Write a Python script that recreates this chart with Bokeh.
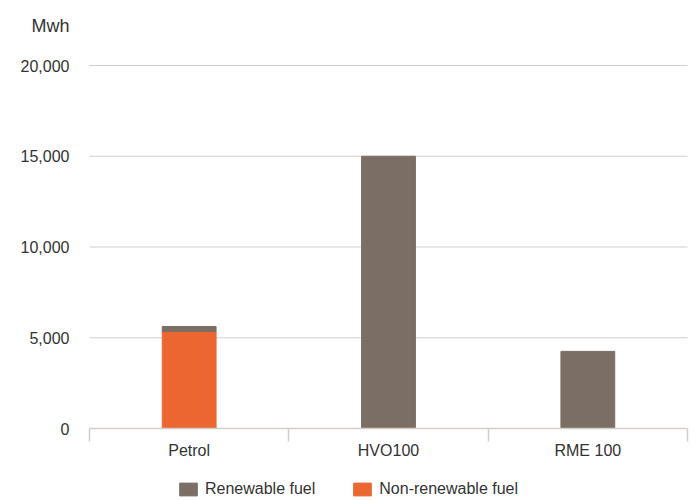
from bokeh.plotting import figure
from bokeh.models import (FixedTicker, NumeralTickFormatter, Legend, LegendItem,
                          ColumnDataSource, Range1d, Label)
from bokeh.embed import file_html
from bokeh.resources import INLINE

# Energy use by fuel type (MWh)
fuels = ["Petrol", "HVO100", "RME 100"]
non_renewable = [5350, 60, 0]
renewable = [270, 14940, 4250]
y_ticks = [0, 5000, 10000, 15000, 20000]

BROWN = "#7b6e64"
ORANGE = "#ec6630"
GRID = "#d3cec8"
TEXT = "#333333"
FONT = "Liberation Sans"
FS = "16px"

W, H = 698, 500
# plot area inside the canvas (pixels): left, right, top of 20,000, baseline
AX_L, AX_R, AX_T, AX_B = 89, 687, 65, 428
n = len(fuels)
ymax = y_ticks[-1]
ux = n / (AX_R - AX_L)          # data units per pixel, x
uy = ymax / (AX_B - AX_T)       # data units per pixel, y

xs = [i + 0.5 for i in range(n)]
stack_top = [a + b for a, b in zip(non_renewable, renewable)]
src = ColumnDataSource(dict(x=xs, nr=non_renewable, top=stack_top))

p = figure(width=W, height=H, output_backend="svg", toolbar_location=None,
           x_range=Range1d(-AX_L * ux, n + (W - AX_R) * ux),
           y_range=Range1d(-(H - AX_B) * uy, ymax + AX_T * uy),
           min_border=0)
p.outline_line_color = None
p.background_fill_color = "white"
p.xgrid.grid_line_color = None
p.ygrid.grid_line_color = None

# horizontal gridlines across the category span
grid_y = y_ticks[1:]
p.segment(x0=[0] * len(grid_y), x1=[n] * len(grid_y), y0=grid_y, y1=grid_y,
          line_color=GRID, line_width=1, level="underlay")

r_nr = p.vbar(x="x", bottom=0, top="nr", width=0.27, color=ORANGE, source=src)
r_r = p.vbar(x="x", bottom="nr", top="top", width=0.27, color=BROWN, source=src)

# y axis: labels only
yax = p.yaxis[0]
yax.fixed_location = 0
yax.ticker = FixedTicker(ticks=y_ticks)
yax.formatter = NumeralTickFormatter(format="0,0")
yax.axis_line_color = None
yax.major_tick_line_color = None
yax.minor_tick_line_color = None
yax.major_label_standoff = 14
yax.major_label_text_font = FONT
yax.major_label_text_font_size = FS
yax.major_label_text_color = TEXT

# x axis: names at bar centres, separator ticks at category boundaries
xax = p.xaxis[0]
xax.fixed_location = 0
xax.bounds = (0, n)
xax.ticker = FixedTicker(ticks=xs, minor_ticks=list(range(n + 1)))
xax.major_label_overrides = {x: f for x, f in zip(xs, fuels)}
xax.axis_line_color = GRID
xax.axis_line_width = 1.5
xax.major_tick_line_color = None
xax.minor_tick_line_color = GRID
xax.minor_tick_line_width = 1.5
xax.minor_tick_in = 0
xax.minor_tick_out = 13
xax.major_tick_in = 0
xax.major_tick_out = 0
xax.major_label_standoff = 0
xax.major_label_text_font = FONT
xax.major_label_text_font_size = FS
xax.major_label_text_color = TEXT

# unit caption above the value labels
p.add_layout(Label(x=69, y=H - 25, x_units="screen", y_units="screen", text="Mwh",
                   text_align="right", text_baseline="middle", text_font=FONT,
                   text_font_size="18px", text_color=TEXT))

legend = Legend(items=[LegendItem(label="Renewable fuel", renderers=[r_r]),
                       LegendItem(label="Non-renewable fuel", renderers=[r_nr])],
                orientation="horizontal", location=(177, 2),
                glyph_width=22, glyph_height=16, label_standoff=6, spacing=36,
                padding=0, margin=0, border_line_color=None,
                background_fill_alpha=0,
                label_text_font=FONT, label_text_font_size=FS,
                label_text_color=TEXT)
p.add_layout(legend, "center")

open("out.html", "w").write(file_html(p, INLINE))
